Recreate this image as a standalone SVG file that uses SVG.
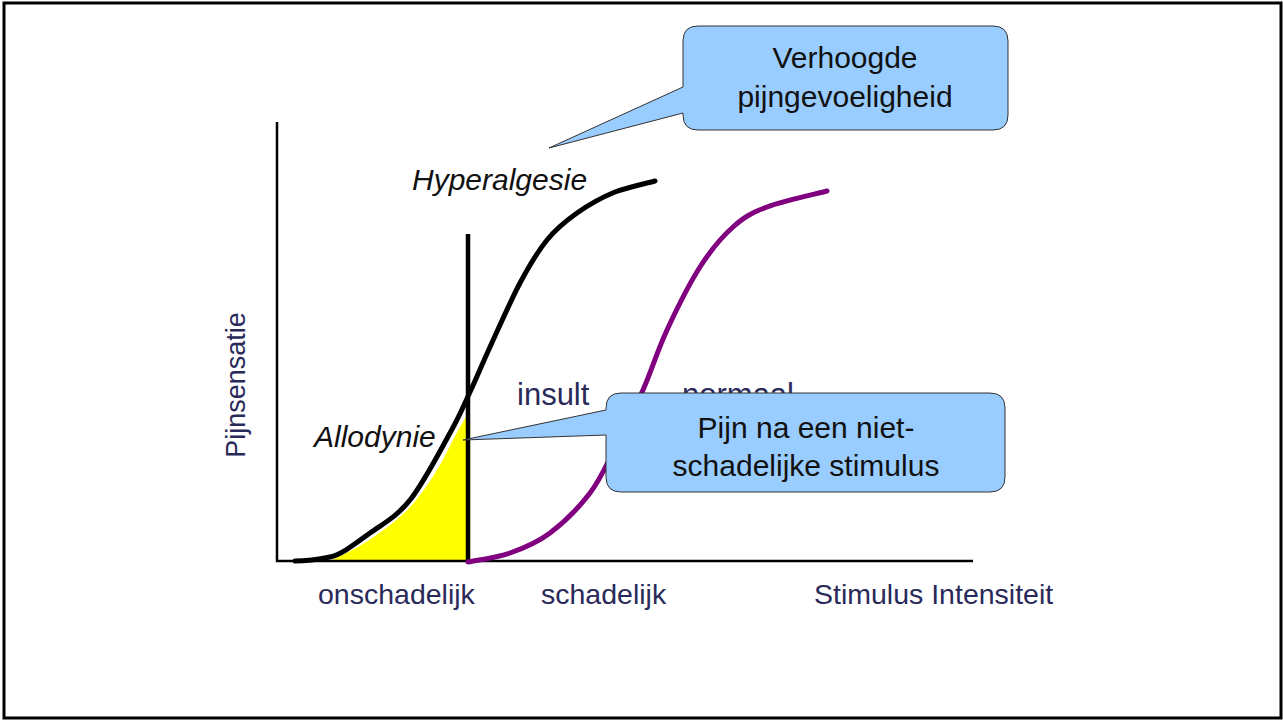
<svg xmlns="http://www.w3.org/2000/svg" width="1283" height="720" viewBox="0 0 1283 720">
  <style>
    .lbl { font-family: "Liberation Sans", Arial, sans-serif; fill: #2a2a5a; }
    .ital { font-family: "Liberation Sans", Arial, sans-serif; font-style: italic; font-size: 30px; fill: #111; }
    .callout { fill: #99ccff; stroke: #333; stroke-width: 1; stroke-linejoin: round; }
    .ctext { font-family: "Liberation Sans", Arial, sans-serif; font-size: 30px; fill: #111; text-anchor: middle; }
    .axis { stroke: #000; stroke-width: 2.5; fill: none; }
    .curve { fill: none; stroke-width: 5; stroke-linecap: round; stroke-linejoin: round; }
  </style>

  <!-- frame -->
  <rect x="0" y="0" width="1283" height="720" fill="#fff"/>
  <rect x="4" y="3" width="1277" height="715" fill="none" stroke="#000" stroke-width="3"/>

  <!-- connectors: axes, threshold line and response curves -->
  <g id="connectors">
    <path id="allodynia-area" d="M330,561 C350,552 362,545 372,538 C390,526 402,516 412,505 C430,484 442,462 450,446 C458,430 463,422 468,413 L468,561 Z" fill="#ffff00"/>
    <path id="y-axis" class="axis" d="M277,122 V562"/>
    <path id="x-axis" class="axis" d="M276,561 H973"/>
    <path id="insult-line" d="M468,234 V563" stroke="#000" stroke-width="4.5" fill="none"/>
    <path id="normal-curve" class="curve" stroke="#800080"
      d="M468,562 C475,560.5 496.3,557.8 510,553 C523.7,548.2 536.7,543 550,533 C563.3,523 579.2,507.2 590,493 C600.8,478.8 606.2,465.2 615,448 C623.8,430.8 634.3,409.7 643,390 C651.7,370.3 657.5,350.5 667,330 C676.5,309.5 689,284.2 700,267 C711,249.8 721.8,237 733,227 C744.2,217 751.3,213 767,207 C782.7,201 817,193.7 827,191"/>
    <path id="sensitised-curve" class="curve" stroke="#000"
      d="M295,561 C302,561 318,559.5 330,557 C342,554.5 356.7,542.5 370,533 C383.3,523.5 396.7,516.7 410,500 C423.3,483.3 440,451 450,433 C460,415 463.3,406.3 470,392 C476.7,377.7 481.7,365.2 490,347 C498.3,328.8 510.5,300.8 520,283 C529.5,265.2 537.5,251.7 547,240 C556.5,228.3 565.7,221 577,213 C588.3,205 602,197.3 615,192 C628,187.3 648.3,182.8 655,181"/>
  </g>

  <!-- axis labels -->
  <g id="axis-labels">
    <text class="lbl" font-size="27" text-anchor="middle" transform="translate(245,385) rotate(-90)">Pijnsensatie</text>
    <text class="lbl" font-size="28.5" x="318" y="604">onschadelijk</text>
    <text class="lbl" font-size="28.5" x="541" y="604">schadelijk</text>
    <text class="lbl" font-size="28.5" x="814" y="604">Stimulus Intensiteit</text>
  </g>

  <!-- curve labels -->
  <g id="curve-labels">
    <text class="lbl" font-size="31" x="517" y="405">insult</text>
    <text class="lbl" font-size="31" x="682" y="405">normaal</text>
    <text class="ital" x="412" y="190">Hyperalgesie</text>
    <text class="ital" x="314" y="447">Allodynie</text>
  </g>

  <!-- callout: hyperalgesia -->
  <g id="callout-hyperalgesia">
    <path class="callout" d="M698,26 H993 Q1008,26 1008,41 V115 Q1008,130 993,130 H698 Q683,130 683,115 V113 L549,148 L683,87 V41 Q683,26 698,26 Z"/>
    <text class="ctext" x="845" y="68">Verhoogde</text>
    <text class="ctext" x="845" y="107">pijngevoeligheid</text>
  </g>

  <!-- callout: allodynia -->
  <g id="callout-allodynia">
    <path class="callout" d="M621,393 H990 Q1005,393 1005,408 V477 Q1005,492 990,492 H621 Q606,492 606,477 V435 L463,440 L606,410 V408 Q606,393 621,393 Z"/>
    <text class="ctext" x="806" y="438">Pijn na een niet-</text>
    <text class="ctext" x="806" y="476">schadelijke stimulus</text>
  </g>
</svg>
